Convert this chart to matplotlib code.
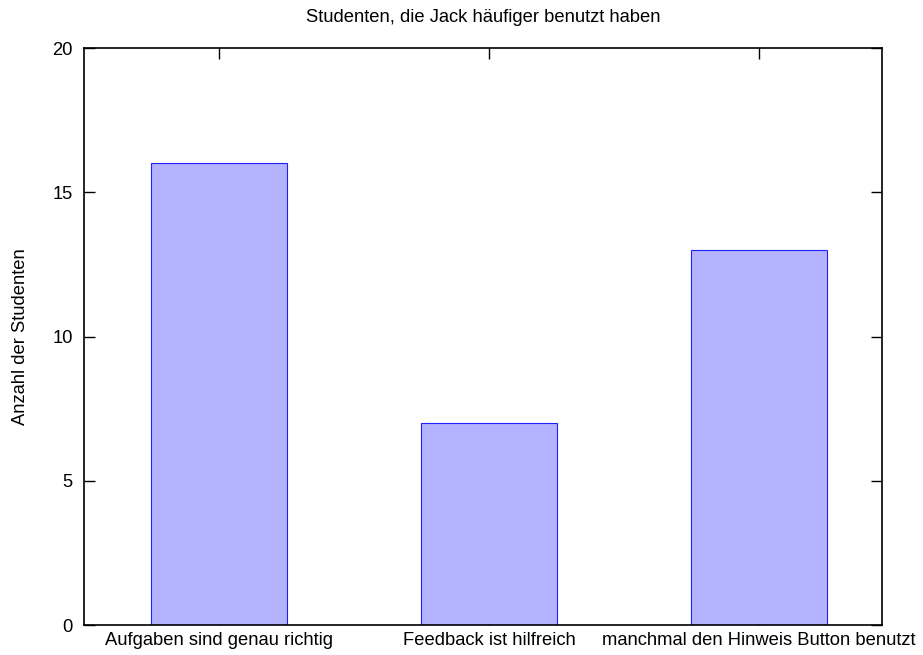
import matplotlib
matplotlib.use("Agg")
import matplotlib.pyplot as plt

plt.rcParams['font.family'] = ['Liberation Sans', 'DejaVu Sans']

categories = ["Aufgaben sind genau richtig",
              "Feedback ist hilfreich",
              "manchmal den Hinweis Button benutzt"]
counts = [16, 7, 13]

fig = plt.figure(figsize=(9.23, 6.55), dpi=100)
ax = fig.add_axes([0.0910, 0.0458, 0.8646, 0.8809])

pos = list(range(len(categories)))
ax.set_axisbelow(True)
ax.bar(pos, counts, width=0.504, color="#b3b3ff", edgecolor="#2020ff", linewidth=0.8, zorder=1)

ax.set_xlim(-0.5, 2.456)
ax.set_ylim(0, 20)
ax.set_xticks(pos)
ax.set_xticklabels(categories, fontsize=13.2)
ax.set_yticks([0, 5, 10, 15, 20])
ax.tick_params(axis="both", direction="in", length=8, width=1, top=True, right=True, labelsize=13.2, pad=8)
ax.tick_params(axis="x", pad=5)
for s in ax.spines.values():
    s.set_linewidth(1.2)
    s.set_zorder(3)

ax.set_ylabel("Anzahl der Studenten", fontsize=13.2, labelpad=17)
ax.set_title("Studenten, die Jack häufiger benutzt haben", fontsize=13.2, pad=19)

fig.savefig("out.png", dpi=100)
